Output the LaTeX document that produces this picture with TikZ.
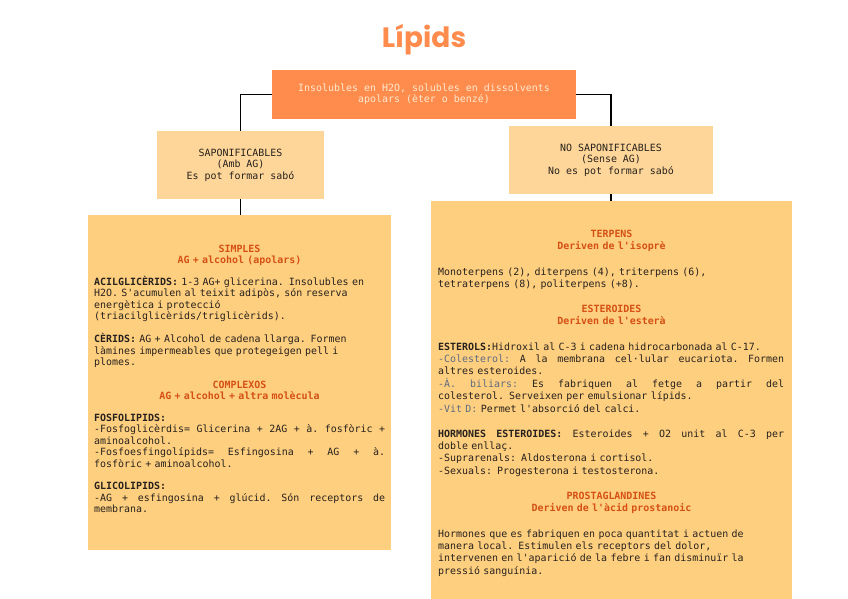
\documentclass[tikz,border=0pt]{standalone}
\usepackage{fontspec}
\setmonofont{DejaVu Sans Mono}[BoldFont={DejaVu Sans Mono Bold}]
\newfontfamily\titlefont{Poppins}
\definecolor{orangeT}{RGB}{255,139,76}
\definecolor{boxlight}{RGB}{255,214,153}
\definecolor{boxbig}{RGB}{255,207,128}
\definecolor{headc}{RGB}{212,80,20}
\definecolor{greyc}{RGB}{94,108,128}
\definecolor{bodyc}{RGB}{38,33,28}
\definecolor{topt}{RGB}{255,234,208}
\newcommand\fsL{\ttfamily\fontsize{9.95}{11.5}\selectfont}
\newcommand\fsR{\ttfamily\fontsize{9.95}{12.4}\selectfont}
\newcommand\jst[2]{\makebox[#1][s]{\spaceskip=\fontdimen2\font plus 1fil\relax\xspaceskip=\spaceskip #2}}
\tikzset{
  bigbox/.style={fill=boxbig, inner sep=0pt, anchor=north west},
  subbox/.style={fill=boxlight, inner sep=0pt, text=bodyc, align=center, font=\ttfamily\fontsize{9.95}{11.6}\selectfont},
  paraL/.style={anchor=base west, inner sep=0pt, text width=291pt, align=left, text=bodyc, font=\fsL},
  paraR/.style={anchor=base west, inner sep=0pt, text width=346pt, align=left, text=bodyc, font=\fsR},
  headL/.style={anchor=base, inner sep=0pt, text width=291pt, align=center, text=headc, font=\fsL\bfseries},
  headR/.style={anchor=base, inner sep=0pt, text width=346pt, align=center, text=headc, font=\fsR\bfseries},
  conn/.style={draw=black, line width=1.2pt}
}
\begin{document}
\begin{tikzpicture}[x=1pt,y=-1pt]
\useasboundingbox (0,0) rectangle (848,599);
\fill[white] (0,0) rectangle (848,599);
% title
\node[anchor=base, inner sep=0pt, text=orangeT, font=\titlefont\bfseries\fontsize{28}{30}\selectfont] (title) at (424,48) {Lípids};
% top box
\node[fill=orangeT, inner sep=0pt, minimum width=304pt, minimum height=49pt, text=topt, align=center, font=\ttfamily\fontsize{9.95}{10.8}\selectfont] (top) at (424,94.5) {Insolubles en H2O, solubles en dissolvents\\apolars (èter o benzé)};
% sub boxes
\node[subbox, minimum width=167pt, minimum height=68pt] (sap) at (240.5,165) {SAPONIFICABLES\\(Amb AG)\\Es pot formar sabó};
\node[subbox, minimum width=204pt, minimum height=68pt] (nosap) at (611,160) {NO SAPONIFICABLES\\(Sense AG)\\No es pot formar sabó};
% big boxes
\node[bigbox, minimum width=303pt, minimum height=335pt] (L) at (88,215) {};
\node[bigbox, minimum width=361pt, minimum height=398pt] (R) at (431,201) {};
% connectors
\draw[conn] (top.west) -| (sap.north);
\draw[conn] (top.east) -| (nosap.north);
\draw[conn] (sap.south) -- (sap.south |- L.north);
\draw[conn] (nosap.south) -- (nosap.south |- R.north);
% left box text
\node[headL] (h1) at (239.5,252) {SIMPLES\\AG + alcohol (apolars)};
\node[paraL] (p1) at (94,285) {\textbf{ACILGLICÈRIDS:} 1-3 AG+ glicerina. Insolubles en\\H2O. S'acumulen al teixit adipòs, són reserva\\energètica i protecció\\(triacilglicèrids/triglicèrids).};
\node[paraL] (p2) at (94,342.5) {\textbf{CÈRIDS:} AG + Alcohol de cadena llarga. Formen\\làmines impermeables que protegeigen pell i\\plomes.};
\node[headL] (h2) at (239.5,388) {COMPLEXOS\\AG + alcohol + altra molècula};
\node[paraL] (p3) at (94,421) {\textbf{FOSFOLIPIDS:}\\\jst{291pt}{-Fosfoglicèrdis= Glicerina + 2AG + à. fosfòric +}\\aminoalcohol.\\\jst{291pt}{-Fosfoesfingolípids= Esfingosina + AG + à.}\\fosfòric + aminoalcohol.};
\node[paraL] (p4) at (94,489.5) {\textbf{GLICOLIPIDS:}\\\jst{291pt}{-AG + esfingosina + glúcid. Són receptors de}\\membrana.};
% right box text
\node[headR] (h3) at (611.5,237.5) {TERPENS\\Deriven de l'isoprè};
\node[paraR] (p5) at (438,275) {Monoterpens (2), diterpens (4), triterpens (6),\\tetraterpens (8), politerpens (+8).};
\node[headR] (h4) at (611.5,312.5) {ESTEROIDES\\Deriven de l'esterà};
\node[paraR] (p6) at (438,350) {\textbf{ESTEROLS:}Hidroxil al C-3 i cadena hidrocarbonada al C-17.\\\jst{346pt}{\textcolor{greyc}{-Colesterol:} A la membrana cel·lular eucariota. Formen}\\altres esteroides.\\\jst{346pt}{\textcolor{greyc}{-À. biliars:} Es fabriquen al fetge a partir del}\\colesterol. Serveixen per emulsionar lípids.\\\textcolor{greyc}{-Vit D:} Permet l'absorció del calci.};
\node[paraR] (p7) at (438,437) {\jst{346pt}{\textbf{HORMONES ESTEROIDES:} Esteroides + O2 unit al C-3 per}\\doble enllaç.\\-Suprarenals: Aldosterona i cortisol.\\-Sexuals: Progesterona i testosterona.};
\node[headR] (h5) at (611.5,499) {PROSTAGLANDINES\\Deriven de l'àcid prostanoic};
\node[paraR] (p8) at (438,537) {Hormones que es fabriquen en poca quantitat i actuen de\\manera local. Estimulen els receptors del dolor,\\intervenen en l'aparició de la febre i fan disminuïr la\\pressió sanguínia.};
\end{tikzpicture}
\end{document}
